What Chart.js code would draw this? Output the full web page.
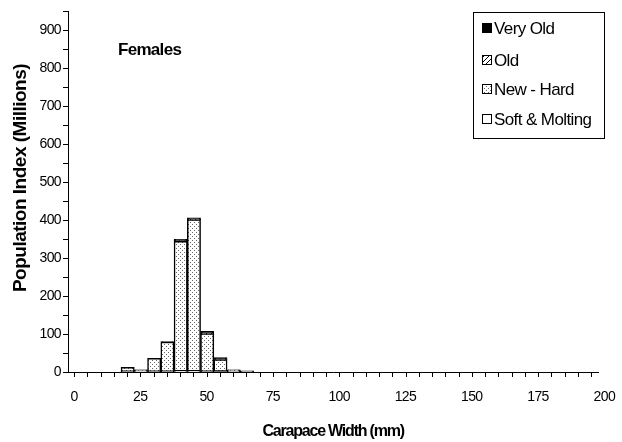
<!DOCTYPE html>
<html>
<head>
<meta charset="utf-8">
<script src="https://cdn.jsdelivr.net/npm/chart.js@4"></script>
<style>
  html, body { margin: 0; padding: 0; background: #fff; }
  #wrap { width: 622px; height: 442px; }
</style>
</head>
<body>
<div id="wrap"><canvas id="crabChart" width="622" height="442"></canvas></div>
<script>
// lower edge of each 5 mm size bin
const binStarts = [20, 25, 30, 35, 40, 45, 50, 55, 60, 65];
const binWidth = 5;

// population index (millions) per shell condition
const softMolting = [1, 3, 1, 1, 2, 2, 1, 0, 1, 0];
const newHard     = [11, 2, 35, 78, 342, 399, 100, 33, 4, 1];
const oldShell    = [0, 0, 0, 0, 1, 1, 1, 1, 0, 0];
const veryOld     = [0, 1, 0, 1, 4, 4, 5, 4, 1, 2];

const seriesLabels = ["Soft & Molting", "New - Hard", "Old", "Very Old"];
const xTickLabels = [0, 25, 50, 75, 100, 125, 150, 175, 200];
const yTickLabels = [0, 100, 200, 300, 400, 500, 600, 700, 800, 900];

const FONT = "'Liberation Sans', Arial, sans-serif";

function makePattern(kind) {
  const c = document.createElement("canvas");
  const ctx = c.getContext("2d");
  if (kind === "dots") {
    c.width = 4; c.height = 4;
    ctx.fillStyle = "#fff";
    ctx.fillRect(0, 0, 4, 4);
    ctx.fillStyle = "#666";
    ctx.fillRect(0, 0, 1, 1);
    ctx.fillRect(2, 2, 1, 1);
  } else {
    c.width = 5; c.height = 5;
    ctx.fillStyle = "#fff";
    ctx.fillRect(0, 0, 5, 5);
    ctx.strokeStyle = "#000";
    ctx.lineWidth = 1;
    ctx.beginPath();
    ctx.moveTo(0, 5); ctx.lineTo(5, 0);
    ctx.stroke();
  }
  return ctx.createPattern(c, "repeat");
}

const dotFill = makePattern("dots");
const hatchFill = makePattern("hatch");

function toPoints(values) {
  return binStarts.map((b, i) => ({ x: b + binWidth / 2, y: values[i] || null }));
}

const fills = ["#ffffff", dotFill, hatchFill, "#000000"];
const seriesValues = [softMolting, newHard, oldShell, veryOld];

// titles, legend box and "Females" label
const annotations = {
  id: "annotations",
  beforeDraw(chart) {
    chart.ctx.letterSpacing = "-0.6px";
  },
  afterDraw(chart) {
    const ctx = chart.ctx;
    const area = chart.chartArea;
    ctx.save();
    ctx.fillStyle = "#000";
    ctx.textBaseline = "middle";

    // axis titles
    ctx.font = "bold 16px " + FONT;
    ctx.letterSpacing = "-1.2px";
    ctx.textAlign = "center";
    ctx.fillText("Carapace Width (mm)", (area.left + area.right) / 2, 432);

    ctx.save();
    ctx.font = "bold 19px " + FONT;
    ctx.letterSpacing = "-0.5px";
    ctx.translate(21, 178);
    ctx.rotate(-Math.PI / 2);
    ctx.fillText("Population Index (Millions)", 0, 0);
    ctx.restore();

    ctx.textAlign = "left";
    ctx.font = "bold 17px " + FONT;
    ctx.letterSpacing = "-0.7px";
    ctx.fillText("Females", 118, 50);

    const bx = 473, by = 12, bw = 131, bh = 126;
    ctx.strokeStyle = "#000";
    ctx.lineWidth = 1;
    ctx.strokeRect(bx + 0.5, by + 0.5, bw, bh);

    ctx.font = "17px " + FONT;
    ctx.letterSpacing = "-0.6px";
    const rows = [28, 60, 89, 119];
    for (let i = 0; i < 4; i++) {
      const di = 3 - i;
      const y = rows[i];
      ctx.fillStyle = fills[di];
      ctx.fillRect(482, y - 5, 10, 10);
      ctx.strokeStyle = "#000";
      ctx.strokeRect(482.5, y - 4.5, 9, 9);
      ctx.fillStyle = "#000";
      ctx.fillText(seriesLabels[di], 494, y + 1);
    }
    ctx.restore();
    ctx.letterSpacing = "0px";
  }
};

new Chart(document.getElementById("crabChart"), {
  type: "bar",
  data: {
    datasets: seriesValues.map((vals, i) => ({
      label: seriesLabels[i],
      data: toPoints(vals),
      backgroundColor: fills[i],
      borderColor: "#000",
      borderWidth: 1.5,
      borderSkipped: false,
      barPercentage: 1,
      categoryPercentage: 1
    }))
  },
  options: {
    responsive: false,
    animation: false,
    layout: { padding: { top: 11, right: 22, left: 0, bottom: 0 } },
    plugins: {
      legend: { display: false },
      tooltip: { enabled: false }
    },
    scales: {
      x: {
        type: "linear",
        stacked: true,
        offset: false,
        min: 0,
        max: 200,
        afterFit(scale) { scale.height = 70; },
        border: { display: true, color: "#000", width: 1 },
        grid: { display: true, drawOnChartArea: false, drawTicks: true, tickLength: 5, color: "#000" },
        ticks: {
          stepSize: 5,
          autoSkip: false,
          maxRotation: 0,
          padding: 12,
          labelOffset: 6,
          color: "#000",
          font: { family: FONT, size: 14 },
          callback: (v) => (xTickLabels.includes(v) ? String(v) : "")
        }
      },
      y: {
        stacked: true,
        min: 0,
        max: 950,
        afterFit(scale) { scale.width = 68; },
        border: { display: true, color: "#000", width: 1 },
        grid: { display: true, drawOnChartArea: false, drawTicks: true, tickLength: 5, color: "#000" },
        ticks: {
          stepSize: 50,
          autoSkip: false,
          padding: 2,
          color: "#000",
          font: { family: FONT, size: 14 },
          callback: (v) => (yTickLabels.includes(v) ? String(v) : "")
        }
      }
    }
  },
  plugins: [annotations]
});
</script>
</body>
</html>
